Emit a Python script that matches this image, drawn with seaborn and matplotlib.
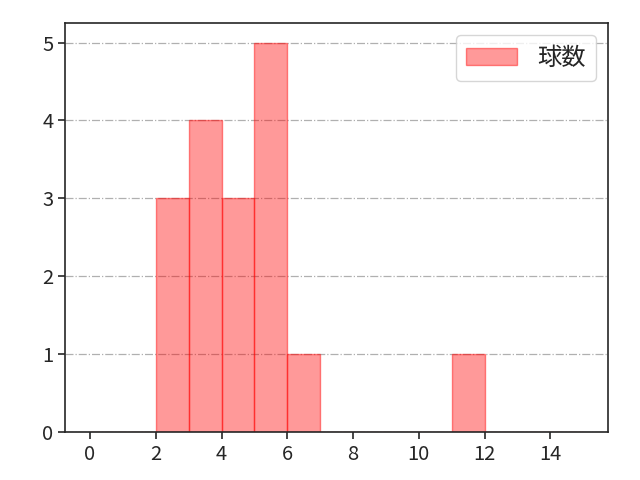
import matplotlib
matplotlib.use("Agg")
import matplotlib.pyplot as plt
import seaborn as sns
import numpy as np
import pandas as pd

bin_left = [2, 3, 4, 5, 6, 11]
counts = [3, 4, 3, 5, 1, 1]
bin_edges = list(range(0, 16))
label = "球数"

sns.set_style("ticks")
plt.rcParams['font.family'] = ['Noto Sans CJK JP', 'DejaVu Sans']

df = pd.DataFrame({"x": [b + 0.5 for b in bin_left], "w": counts})

fig, ax = plt.subplots(figsize=(6.4, 4.8), dpi=100)
sns.histplot(data=df, x="x", weights="w", bins=bin_edges, ax=ax,
             color="red", alpha=0.4, edgecolor=(1, 0, 0, 0.45), linewidth=1, label=label)
ax.set_xlim(-0.75, 15.75)
ax.set_ylim(0, 5.25)
ax.set_xticks([0, 2, 4, 6, 8, 10, 12, 14])
ax.set_yticks([0, 1, 2, 3, 4, 5])
ax.set_xlabel("")
ax.set_ylabel("")
ax.grid(axis="y", linestyle="-.", color="#b0b0b0", linewidth=0.9)
ax.set_axisbelow(True)
ax.tick_params(labelsize=14.5, length=5, width=1.2)
for s in ax.spines.values():
    s.set_linewidth(1.2)
ax.legend(loc="upper right", fontsize=17.5, handlelength=2.1, handletextpad=0.85,
          borderpad=0.4, borderaxespad=0.5)
fig.subplots_adjust(left=0.102, right=0.95, top=0.952, bottom=0.1)
fig.savefig("out.png", dpi=100)
